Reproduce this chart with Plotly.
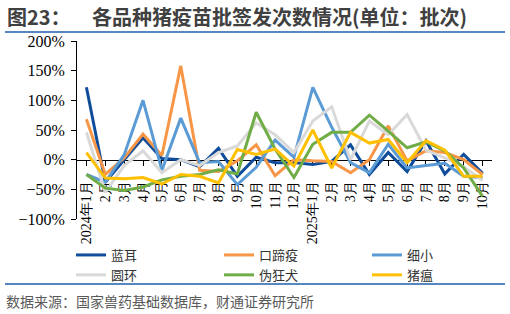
import plotly.graph_objects as go

months = ["2024年1月", "2月", "3月", "4月", "5月", "6月", "7月", "8月", "9月", "10月", "11月", "12月",
          "2025年1月", "2月", "3月", "4月", "5月", "6月", "7月", "8月", "9月", "10月"]
cats = list(range(len(months)))

lan_er = [122, -38, 0, 37, 2, 0, -12, 19, -28, 4, -5, -5, -8, -3, 25, -25, 12, -20, 32, -24, 9, -23]
kou_ti_yi = [68, -25, 3, 43, 7, 158, -18, -20, -2, 25, -27, 0, -2, -3, -22, 0, 57, -2, 15, 12, 0, -25]
xi_xiao = [-25, -38, 8, 100, -18, 70, -5, -3, -42, -13, 33, 4, 122, 55, -5, -22, 26, -14, -10, -6, -28, -30]
yuan_huan = [46, -55, -10, 15, -22, 0, -10, 12, 23, 62, 42, 12, 65, 89, 0, 65, 42, 76, 16, 3, -12, -35]
wei_kuang_quan = [-25, -48, -52, -46, -34, -28, -25, -17, -24, 80, 18, -30, 26, 46, 46, 75, 48, 20, 30, 15, -14, -62]
zhu_wen = [12, -31, -32, -30, -41, -25, -28, -39, 17, 9, 18, -11, 50, -14, 46, 28, 34, -5, 32, 16, -28, -28]

series = [
    ("蓝耳", lan_er, "#0f4c9a"),
    ("口蹄疫", kou_ti_yi, "#f79646"),
    ("细小", xi_xiao, "#5b9bd5"),
    ("圆环", yuan_huan, "#d9d9d9"),
    ("伪狂犬", wei_kuang_quan, "#70ad47"),
    ("猪瘟", zhu_wen, "#ffc000"),
]

W, H = 510, 314
L, R, T, B = 77, 492, 41, 219  # plot area in px


def px(xp):
    return (xp - L) / (R - L)


def py(yp):
    return (B - yp) / (B - T)


fig = go.Figure()
for name, vals, color in series:
    fig.add_trace(go.Scatter(x=cats, y=vals, name=name, mode="lines",
                             line=dict(color=color, width=3)))

serif = "Liberation Serif"
cjk = "Noto Sans CJK SC"

fig.update_layout(
    width=W, height=H,
    margin=dict(l=L, r=W - R, t=T, b=H - B, autoexpand=False),
    paper_bgcolor="white", plot_bgcolor="white",
    showlegend=True,
    legend=dict(orientation="h", x=px(71), y=py(240), xanchor="left", yanchor="top",
                entrywidth=103, entrywidthmode="pixels",
                font=dict(family=cjk, size=13, color="#333333"),
                bgcolor="rgba(0,0,0,0)", tracegroupgap=0),
    xaxis=dict(
        range=[-0.5, len(months) - 0.5],
        tickmode="array", tickvals=cats, ticktext=months,
        tickangle=-90, tickson="boundaries",
        ticks="outside", ticklen=5, tickcolor="black", tickwidth=1,
        ticklabelstandoff=10,
        showline=True, linecolor="black", linewidth=1,
        showgrid=False, zeroline=False,
        anchor="free", position=1 / 3,
        layer="below traces", automargin=False,
        tickfont=dict(family=serif, size=14, color="black"),
    ),
    yaxis=dict(
        range=[-100, 200], dtick=50, ticksuffix="%",
        ticks="outside", ticklen=5, tickcolor="black", tickwidth=1,
        ticklabelstandoff=3,
        showline=True, linecolor="black", linewidth=1,
        showgrid=False, zeroline=False,
        layer="below traces", automargin=False,
        tickfont=dict(family=serif, size=16, color="black"),
    ),
    annotations=[
        dict(text="<b>图23：</b>", x=px(5), y=py(17), xref="paper", yref="paper",
             xanchor="left", yanchor="middle", showarrow=False,
             font=dict(family=cjk, size=20, color="#404040")),
        dict(text="<b>各品种猪疫苗批签发次数情况(单位：批次)</b>", x=px(90), y=py(17), xref="paper", yref="paper",
             xanchor="left", yanchor="middle", showarrow=False,
             font=dict(family=cjk, size=20, color="#404040")),
        dict(text="数据来源：国家兽药基础数据库，财通证券研究所", x=px(4), y=py(301), xref="paper", yref="paper",
             xanchor="left", yanchor="middle", showarrow=False,
             font=dict(family=cjk, size=14, color="#595959")),
    ],
    shapes=[
        dict(type="line", xref="paper", yref="paper", x0=px(5), x1=px(505), y0=py(32), y1=py(32),
             line=dict(color="#1f5fad", width=1.5)),
        dict(type="line", xref="paper", yref="paper", x0=px(5), x1=px(505), y0=py(284), y1=py(284),
             line=dict(color="#1f5fad", width=1.5)),
    ],
)

fig.write_html("out.html")
